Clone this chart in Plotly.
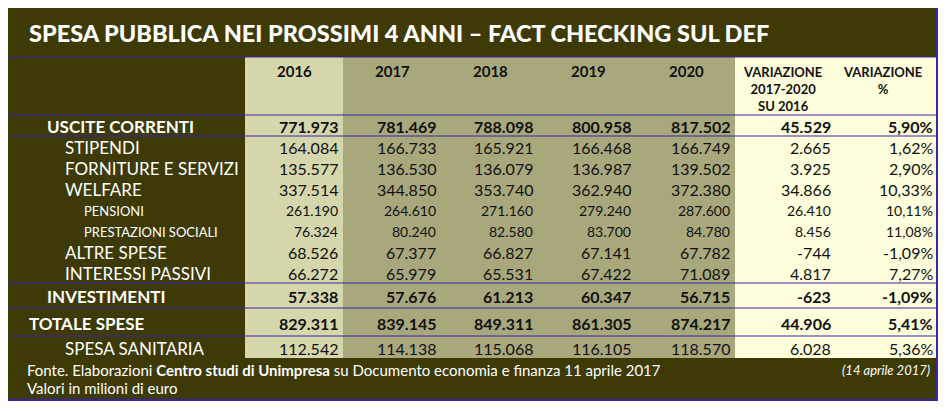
import plotly.graph_objects as go

# Data
title = "SPESA PUBBLICA NEI PROSSIMI 4 ANNI – FACT CHECKING SUL DEF"
years = ["2016", "2017", "2018", "2019", "2020"]
var_headers = ["VARIAZIONE<br>2017-2020<br>SU 2016", "VARIAZIONE<br>%"]

labels = ["USCITE CORRENTI", "STIPENDI", "FORNITURE E SERVIZI", "WELFARE", "PENSIONI",
          "PRESTAZIONI SOCIALI", "ALTRE SPESE", "INTERESSI PASSIVI", "INVESTIMENTI",
          "TOTALE SPESE", "SPESA SANITARIA"]
v2016 = ["771.973", "164.084", "135.577", "337.514", "261.190", "76.324", "68.526", "66.272", "57.338", "829.311", "112.542"]
v2017 = ["781.469", "166.733", "136.530", "344.850", "264.610", "80.240", "67.377", "65.979", "57.676", "839.145", "114.138"]
v2018 = ["788.098", "165.921", "136.079", "353.740", "271.160", "82.580", "66.827", "65.531", "61.213", "849.311", "115.068"]
v2019 = ["800.958", "166.468", "136.987", "362.940", "279.240", "83.700", "67.141", "67.422", "60.347", "861.305", "116.105"]
v2020 = ["817.502", "166.749", "139.502", "372.380", "287.600", "84.780", "67.782", "71.089", "56.715", "874.217", "118.570"]
var_abs = ["45.529", "2.665", "3.925", "34.866", "26.410", "8.456", "-744", "4.817", "-623", "44.906", "6.028"]
var_pct = ["5,90%", "1,62%", "2,90%", "10,33%", "10,11%", "11,08%", "-1,09%", "7,27%", "-1,09%", "5,41%", "5,36%"]

source = "Fonte. Elaborazioni <b>Centro studi di Unimpresa</b> su Documento economia e finanza 11 aprile 2017"
date_note = "<i>(14 aprile 2017)</i>"
units = "Valori in milioni di euro"

# Layout (page pixels; the page body has an 8px margin)
W, H = 947, 411
BODY = 8
DARK = "#3d3a06"
C2016 = "#d5d6ab"
CYEARS = "#a9a87d"
CVAR = "#fefedc"
LINE = "#3a24a0"
FONT = "Lato"

col_edges = [7, 245, 343, 441, 539, 637, 735, 837, 936]
row_heights = [21, 21, 21, 21, 21, 21, 21, 21, 25, 28, 22]
row_top = 115
row_edges = [row_top]
for h in row_heights:
    row_edges.append(row_edges[-1] + h)
# label indent / style per row: (x, size, bold)
label_style = [(45, 17, True), (63, 17, False), (63, 17, False), (63, 17, False), (82, 13, False),
               (82, 13, False), (63, 17, False), (63, 17, False), (45, 17, True), (27, 17, True),
               (63, 17, False)]
num_pad = [3, 3, 4, 4, 3, 4, 1]

fig = go.Figure()
shapes = []
ann = []

def rect(x0, y0, x1, y1, color):
    shapes.append(dict(type="rect", xref="x", yref="y", x0=x0, x1=x1, y0=y0, y1=y1,
                       fillcolor=color, line_width=0, layer="below"))

def hline(y, x0=7, x1=936):
    shapes.append(dict(type="line", xref="x", yref="y", x0=x0, x1=x1, y0=y, y1=y,
                       line=dict(color=LINE, width=1.2)))

def text(x, y, s, size, color="#111", anchor="left", bold=False, family=FONT):
    if bold:
        s = "<b>" + s + "</b>"
    ann.append(dict(x=x, y=y, xref="x", yref="y", text=s, showarrow=False,
                    xanchor=anchor, yanchor="middle",
                    font=dict(family=family, size=size, color=color)))

# background
rect(7, 7, 936, 400, DARK)
table_bottom = row_edges[-1]
rect(col_edges[1], 57, col_edges[2], table_bottom, C2016)
rect(col_edges[2], 57, col_edges[6], table_bottom, CYEARS)
rect(col_edges[6], 57, col_edges[8], table_bottom, CVAR)

# title
text(27, 33, title, 23.5, color="white", bold=True, family="Lato Black, Lato")

# header
for i, y in enumerate(years):
    cx = (col_edges[i + 1] + col_edges[i + 2]) / 2
    text(cx, 71, y, 15, anchor="center", bold=True)
for j, hdr in enumerate(var_headers):
    cx = (col_edges[6 + j] + col_edges[7 + j]) / 2 - 4
    ann.append(dict(x=cx, y=62, xref="x", yref="y", text="<b>" + hdr + "</b>", showarrow=False,
                    xanchor="center", yanchor="top", align="center",
                    font=dict(family=FONT, size=13, color="#111")))

# rows
cols = [v2016, v2017, v2018, v2019, v2020, var_abs, var_pct]
for r, lab in enumerate(labels):
    cy = (row_edges[r] + row_edges[r + 1]) / 2 + 1
    lx, ls, lb = label_style[r]
    text(lx, cy, lab, ls, color="white", bold=lb)
    nsize = 16 if ls == 17 else 14
    for c, vals in enumerate(cols):
        text(col_edges[c + 2] - num_pad[c], cy, vals[r], nsize, anchor="right", bold=lb)

# lines
for y in [57, 115, 136, 283, 308, 336]:
    hline(y)
shapes.append(dict(type="rect", xref="x", yref="y", x0=7, x1=937, y0=7, y1=400,
                   line=dict(color=LINE, width=2)))

# footer
text(25, 370, source, 15, color="white")
text(932, 370, date_note, 13, color="white", anchor="right")
text(25, 388, units, 15, color="white")

fig.update_layout(
    width=W - BODY, height=H - BODY, margin=dict(l=0, r=0, t=0, b=0),
    paper_bgcolor="white", plot_bgcolor="white",
    xaxis=dict(range=[BODY, W], visible=False, fixedrange=True),
    yaxis=dict(range=[H, BODY], visible=False, fixedrange=True),
    shapes=shapes, annotations=ann, showlegend=False,
)
fig.write_html("out.html")
